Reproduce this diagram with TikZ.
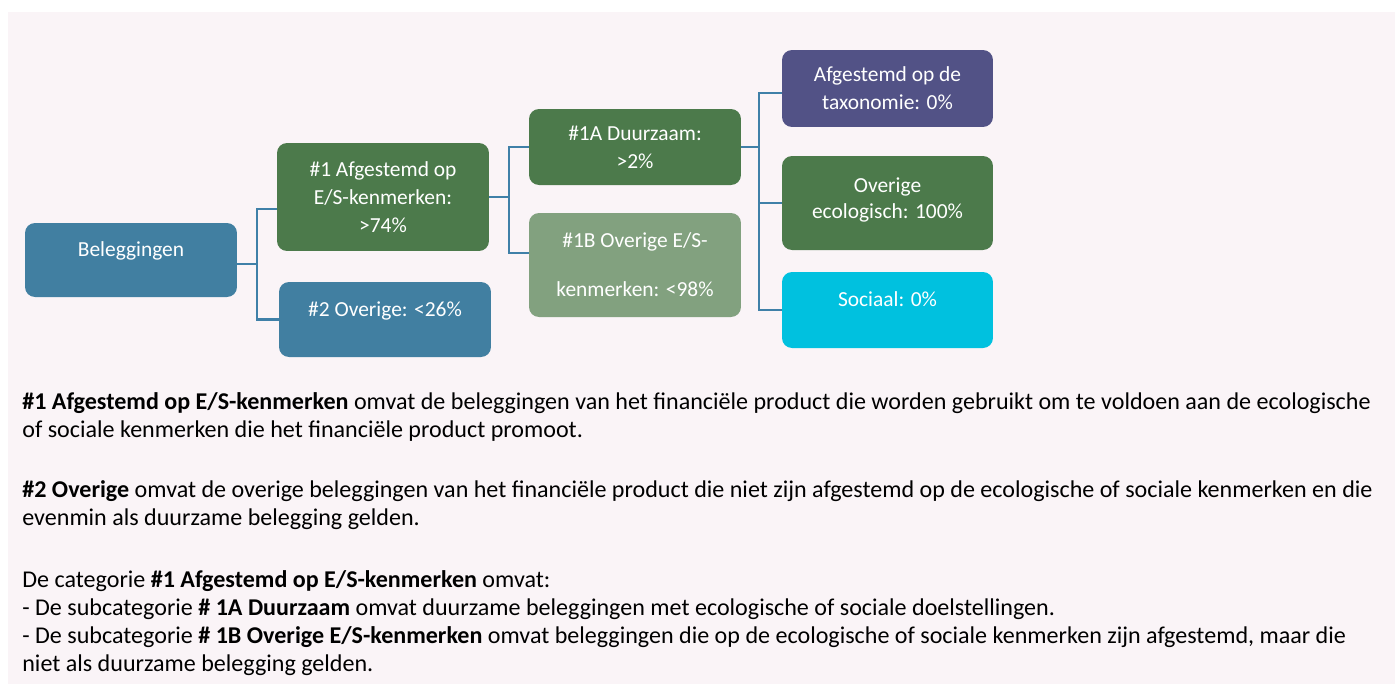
\documentclass[tikz,border=0pt]{standalone}
\usepackage{fontspec}
\setmainfont{Carlito}
\definecolor{bgpink}{HTML}{FAF4F7}
\definecolor{boxblue}{HTML}{417FA1}
\definecolor{boxgreen}{HTML}{4C7A4B}
\definecolor{lightgreen}{HTML}{82A17F}
\definecolor{boxpurple}{HTML}{525286}
\definecolor{boxcyan}{HTML}{00C1DF}
\definecolor{linkblue}{HTML}{3F80A8}
\newcommand{\boxsize}{\fontsize{12.2}{15.93}\selectfont}
\newcommand{\bodysize}{\fontsize{13.7}{15.93}\selectfont}

\begin{document}
\begin{tikzpicture}[x=0.02cm, y=-0.02cm,
    box/.style={rounded corners=0.2cm, text=white, align=center, minimum width=4.24cm, inner sep=0pt, font=\boxsize},
    uptext/.style={text height=0.28cm, text depth=0.42cm},
    link/.style={linkblue, line width=1.3pt},
    body/.style={anchor=base west, align=left, inner sep=0pt, font=\bodysize}]
    \useasboundingbox (0,0) rectangle (1395,684) ;
    \fill [bgpink] (8,12) rectangle (1395,684) ;

    \node [box, uptext, fill=boxblue, minimum height=1.48cm] (bel) at (131,260) {Beleggingen} ;
    \node [box, text depth=-0.12cm, fill=boxgreen, minimum height=2.16cm] (es) at (383,197) {\#1 Afgestemd op\\E/S-kenmerken:\\>74\%} ;
    \node [box, uptext, fill=boxblue, minimum height=1.5cm] (ov) at (385,319.5) {\#2 Overige: <26\%} ;
    \node [box, text depth=-0.16cm, fill=boxgreen, minimum height=1.52cm] (dz) at (635,147) {\#1A Duurzaam:\\>2\%} ;
    \node [box, fill=lightgreen, minimum height=2.08cm] (ob) at (635,265) {\#1B Overige E/S-\\[0.42cm]kenmerken: <98\%} ;
    \node [box, text depth=-0.14cm, fill=boxpurple, minimum height=1.54cm, minimum width=4.22cm] (tax) at (887.5,88.5) {Afgestemd op de\\taxonomie: 0\%} ;
    \node [box, text depth=0.2cm, fill=boxgreen, minimum height=1.88cm, minimum width=4.22cm] (eco) at (887.5,203) {Overige\\[-0.04cm]ecologisch: 100\%} ;
    \node [box, uptext, fill=boxcyan, minimum height=1.52cm, minimum width=4.22cm] (soc) at (887.5,310) {Sociaal: 0\%} ;

    \draw [link] ([yshift=-0.08cm]bel.east) -- ++(20,0) |- ([yshift=-0.24cm]es.west) ;
    \draw [link] ([yshift=-0.08cm]bel.east) -- ++(20,0) |- (ov.west) ;
    \draw [link] (es.east) -- ++(20,0) |- (dz.west) ;
    \draw [link] (es.east) -- ++(20,0) |- ([yshift=0.24cm]ob.west) ;
    \draw [link] (dz.east) -- ++(18,0) |- ([yshift=-0.09cm]tax.west) ;
    \draw [link] (dz.east) -- ++(18,0) |- (eco.west) ;
    \draw [link] (dz.east) -- ++(18,0) |- (soc.west) ;

    \node [body] (p1) at (22,437) {\textbf{\#1 Afgestemd op E/S-kenmerken} omvat de beleggingen van het financiële product die worden gebruikt om te voldoen aan de ecologische\\of sociale kenmerken die het financiële product promoot.} ;
    \node [body] (p2) at (22,525) {\textbf{\#2 Overige} omvat de overige beleggingen van het financiële product die niet zijn afgestemd op de ecologische of sociale kenmerken en die\\evenmin als duurzame belegging gelden.} ;
    \node [body] (p3) at (22,671) {De categorie \textbf{\#1 Afgestemd op E/S-kenmerken} omvat:\\- De subcategorie \textbf{\# 1A Duurzaam} omvat duurzame beleggingen met ecologische of sociale doelstellingen.\\- De subcategorie \textbf{\# 1B Overige E/S-kenmerken} omvat beleggingen die op de ecologische of sociale kenmerken zijn afgestemd, maar die\\niet als duurzame belegging gelden.} ;
\end{tikzpicture}
\end{document}
